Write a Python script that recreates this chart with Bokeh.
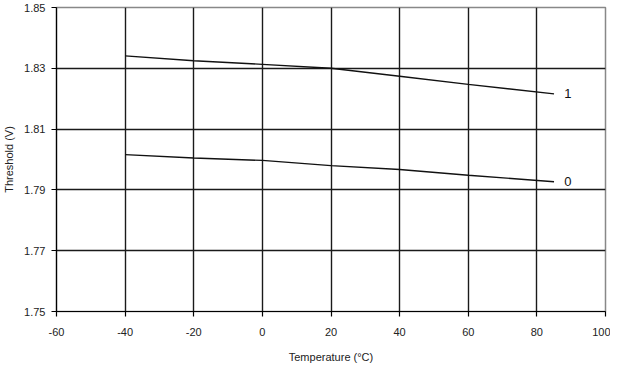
from bokeh.plotting import figure
from bokeh.models import ColumnDataSource, FixedTicker, Range1d, CustomJSTickFormatter
from bokeh.embed import file_html
from bokeh.resources import INLINE
from bokeh.core.properties import value

temperature = [-40, -20, 0, 20, 40, 60, 85]
series_1 = [1.8341, 1.8325, 1.8313, 1.8300, 1.8274, 1.8247, 1.8216]
series_0 = [1.8016, 1.8005, 1.7997, 1.7980, 1.7967, 1.7948, 1.7927]
series_labels = ["1", "0"]
x_ticks = [-60, -40, -20, 0, 20, 40, 60, 80, 100]
y_ticks = [1.75, 1.77, 1.79, 1.81, 1.83, 1.85]

FONT = "Liberation Sans"

p = figure(frame_width=549, frame_height=304, output_backend="svg", toolbar_location=None,
           x_range=Range1d(-60, 100), y_range=Range1d(1.75, 1.85),
           min_border_left=56, min_border_right=5, min_border_top=7, min_border_bottom=54)
p.outline_line_color = "#888888"
p.outline_line_width = 1.5
p.background_fill_color = "white"

for ax in (p.xaxis[0], p.yaxis[0]):
    ax.axis_line_color = "black"
    ax.axis_line_width = 1.2
    ax.major_tick_line_color = "black"
    ax.major_tick_line_width = 1.2
    ax.major_tick_out = 5
    ax.major_tick_in = 0
    ax.minor_tick_line_color = None
    ax.major_label_text_font = FONT
    ax.major_label_text_font_size = "11px"
    ax.major_label_text_color = "#222222"
    ax.axis_label_text_font = FONT
    ax.axis_label_text_font_size = "11px"
    ax.axis_label_text_font_style = "normal"
    ax.axis_label_text_color = "#222222"

p.xaxis.ticker = FixedTicker(ticks=x_ticks)
p.yaxis.ticker = FixedTicker(ticks=y_ticks)
p.xaxis.formatter = CustomJSTickFormatter(code="return String(Math.round(tick));")
p.yaxis.formatter = CustomJSTickFormatter(code="return tick.toFixed(2);")
p.xaxis.axis_label = "Temperature (°C)"
p.yaxis.axis_label = "Threshold (V)"
p.xaxis.major_label_standoff = 11
p.yaxis.major_label_standoff = 6
p.xaxis.axis_label_standoff = 12
p.yaxis.axis_label_standoff = 6

p.xgrid.ticker = FixedTicker(ticks=x_ticks[1:-1])
p.ygrid.ticker = FixedTicker(ticks=y_ticks[1:-1])
for g in (p.xgrid[0], p.ygrid[0]):
    g.grid_line_color = "#1a1a1a"
    g.grid_line_width = 1.4

src = ColumnDataSource(dict(x=temperature, y1=series_1, y0=series_0))
p.line("x", "y1", source=src, line_color="#111111", line_width=1.4)
p.line("x", "y0", source=src, line_color="#111111", line_width=1.4)

lab = ColumnDataSource(dict(x=[temperature[-1] + 3.0] * 2, y=[series_1[-1], series_0[-1]], t=series_labels))
p.text("x", "y", text="t", source=lab, text_font=value(FONT), text_font_size="13px",
       text_baseline="middle", text_align="left", text_color="#111111")

open("out.html", "w").write(file_html(p, INLINE))
